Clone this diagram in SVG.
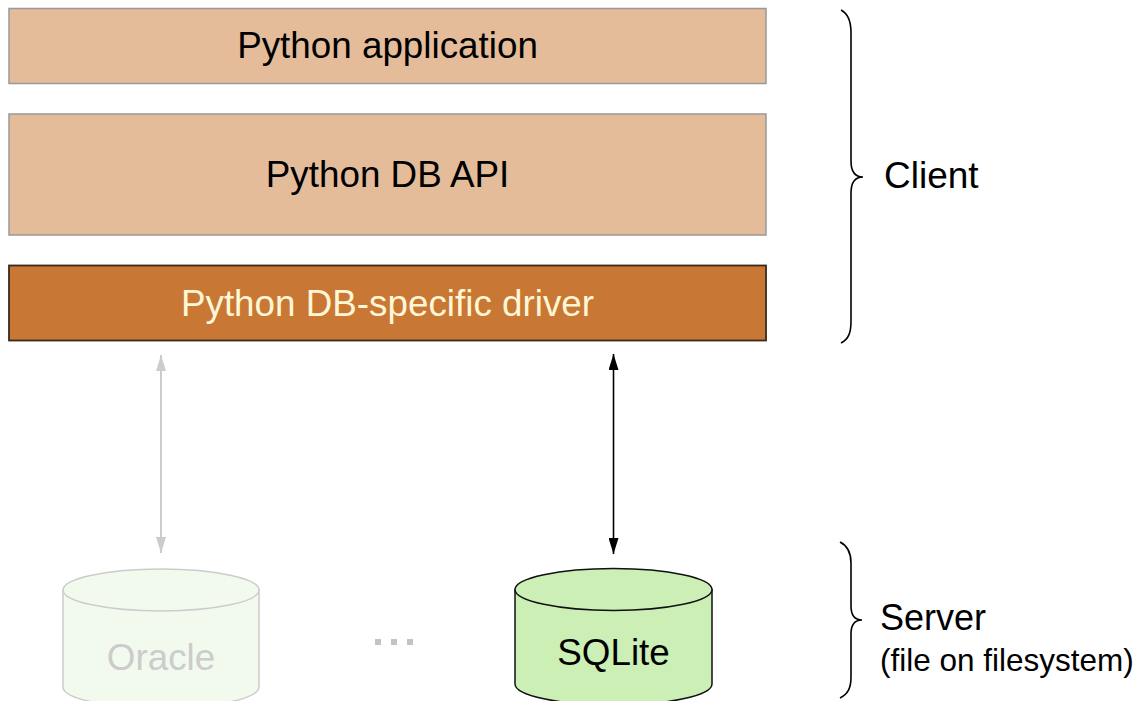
<svg xmlns="http://www.w3.org/2000/svg" width="1138" height="701" viewBox="0 0 1138 701">
<defs>
<style>
text{font-family:"Liberation Sans",Arial,Helvetica,sans-serif;}
.lbl{font-size:36.8px;text-anchor:middle;}
.box{fill:#E4BC9A;stroke:#999;stroke-width:1.5;}
.brace{fill:none;stroke:#000;stroke-width:1.6;}
</style>
<marker id="ab" viewBox="0 0 10 10" refX="10" refY="5" markerWidth="16" markerHeight="10" markerUnits="userSpaceOnUse" orient="auto-start-reverse" preserveAspectRatio="none"><path d="M0,0 L10,5 L0,10 Z" fill="#000"/></marker>
<marker id="ag" viewBox="0 0 10 10" refX="10" refY="5" markerWidth="16" markerHeight="10" markerUnits="userSpaceOnUse" orient="auto-start-reverse" preserveAspectRatio="none"><path d="M0,0 L10,5 L0,10 Z" fill="#ccc"/></marker>
</defs>
<rect width="1138" height="701" fill="#fff"/>
<g id="app">
<rect class="box" x="9" y="8.5" width="757" height="75"/>
<text class="lbl" x="387.5" y="58" fill="#000">Python application</text>
</g>
<g id="dbapi">
<rect class="box" x="9" y="114" width="757" height="121"/>
<text class="lbl" x="387.5" y="187" fill="#000">Python DB API</text>
</g>
<g id="driver">
<rect x="9" y="265.5" width="757" height="75" fill="#C87834" stroke="#3a2a1c" stroke-width="1.8"/>
<text class="lbl" x="387.5" y="316" fill="#FFF6D5">Python DB-specific driver</text>
</g>
<g id="oracle">
<path d="M63,590 L63,687 A98,21 0 0 0 259,687 L259,590 Z" fill="#F2FAEE" stroke="#ccc" stroke-width="1.5"/>
<ellipse cx="161" cy="590" rx="98" ry="21" fill="#F2FAEE" stroke="#ccc" stroke-width="1.5"/>
<text class="lbl" x="161" y="670" fill="#ccc">Oracle</text>
</g>
<g id="dots" fill="#c4c4c4">
<rect x="375" y="639" width="6" height="6"/>
<rect x="391" y="639" width="6" height="6"/>
<rect x="407" y="639" width="6" height="6"/>
</g>
<g id="sqlite">
<path d="M515,589.5 L515,684 A98.5,21 0 0 0 712,684 L712,589.5 Z" fill="#CBEFB5" stroke="#111" stroke-width="1.5"/>
<ellipse cx="613.5" cy="589.5" rx="98.5" ry="21" fill="#CBEFB5" stroke="#111" stroke-width="1.5"/>
<text class="lbl" x="613.5" y="665" fill="#000">SQLite</text>
</g>
<g id="connectors">
<line x1="161" y1="355" x2="161" y2="553" stroke="#ccc" stroke-width="2" marker-start="url(#ag)" marker-end="url(#ag)"/>
<line x1="613.5" y1="354" x2="613.5" y2="554" stroke="#000" stroke-width="1.6" marker-start="url(#ab)" marker-end="url(#ab)"/>
</g>
<g id="client">
<path class="brace" d="M841,10 C849,14 851,22 851,33 L851,161 C851,172 855,177 863,177 C855,177 851,182 851,193 L851,321 C851,332 849,339 841,343"/>
<text x="884" y="188" font-size="37" fill="#000">Client</text>
</g>
<g id="server">
<path class="brace" d="M840,542 C848,546 851,553 851,563 L851,606 C851,615 855,620 862,620 C855,620 851,625 851,634 L851,677 C851,688 848,694 840,698"/>
<text x="880" y="630" font-size="36" fill="#000">Server</text>
<text x="880" y="671" font-size="31.5" fill="#000">(file on filesystem)</text>
</g>
</svg>
